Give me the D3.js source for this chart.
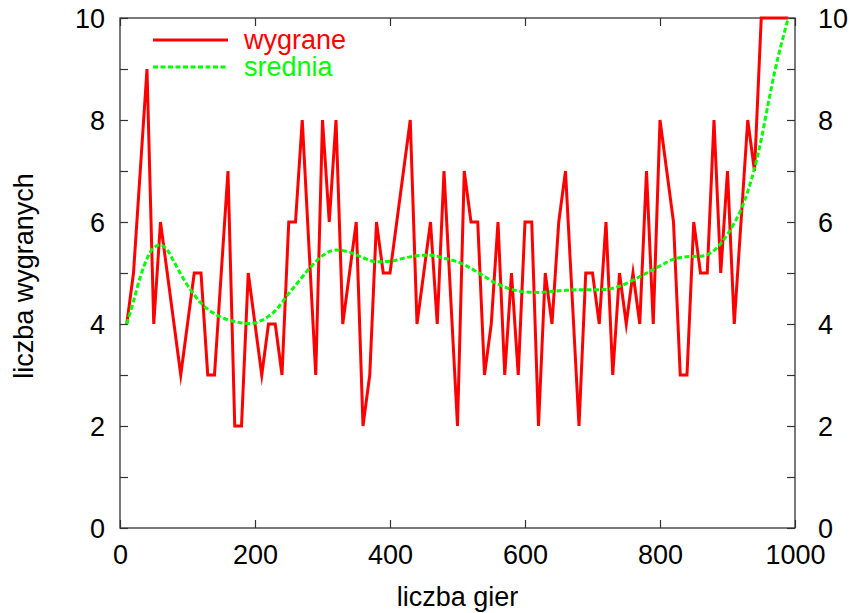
<!DOCTYPE html>
<html>
<head>
<meta charset="utf-8">
<script src="https://cdn.jsdelivr.net/npm/d3@7"></script>
<style>
  html, body { margin: 0; padding: 0; background: #fff; }
  svg { display: block; }
  text { font-family: "Liberation Sans", Arial, Helvetica, sans-serif; }
</style>
</head>
<body>
<svg id="chart" width="851" height="613"></svg>
<script>
// ---- data ----
const games = [10,20,30,40,50,60,70,80,90,100,110,120,130,140,150,160,170,180,190,200,
  210,220,230,240,250,260,270,290,300,310,320,330,340,350,360,370,380,390,400,
  410,420,430,440,450,460,470,480,500,510,520,530,540,550,560,570,580,590,600,
  610,620,630,640,650,660,680,690,700,710,720,730,740,750,760,770,780,790,800,
  810,820,830,840,850,860,870,880,890,900,910,920,930,940,950,960,970,980,990];
const wins = [4,5,7,9,4,6,5,4,3,4,5,5,3,3,5,7,2,2,5,4,
  3,4,4,3,6,6,8,3,8,6,8,4,5,6,2,3,6,5,5,
  6,7,8,4,5,6,4,7,2,7,6,6,3,4,6,3,5,3,6,
  6,2,5,4,6,7,2,5,5,4,6,3,5,4,5,4,7,4,8,
  7,6,3,3,6,5,5,8,5,7,4,6,8,7,10,10,10,10,10];

const avgGames = [10,20,30,40,50,60,70,80,90,100,110,120,130,140,150,160,170,180,190,200,
  210,220,230,240,250,260,270,280,290,300,320,340,360,380,400,420,440,460,480,500,
  520,540,560,580,600,620,640,660,680,700,720,740,760,780,800,820,840,860,870,880,
  890,900,910,920,930,940,950,960,970,980,990];
const avgWins = [4.0,4.45,4.92,5.28,5.5,5.55,5.45,5.22,4.98,4.76,4.57,4.41,4.29,4.2,4.13,4.08,4.05,4.02,4.01,4.02,
  4.07,4.15,4.26,4.42,4.6,4.76,4.92,5.08,5.22,5.34,5.45,5.41,5.3,5.22,5.23,5.29,5.34,5.35,5.29,5.22,
  5.09,4.93,4.78,4.68,4.63,4.62,4.64,4.66,4.67,4.67,4.68,4.74,4.86,5.0,5.14,5.27,5.32,5.33,5.36,5.44,
  5.58,5.76,5.98,6.24,6.6,7.05,7.62,8.3,8.95,9.5,10.0];

const xTicks = [0,200,400,600,800,1000];
const yTicks = [0,1,2,3,4,5,6,7,8,9,10];
const yLabels = ["0","","2","","4","","6","","8","","10"];
const seriesNames = ["wygrane","srednia"];
const xTitle = "liczba gier";
const yTitle = "liczba wygranych";

// ---- layout ----
const svg = d3.select("#chart");
const L = 120, R = 795, T = 18, B = 528;
const FS = 27;
const x = d3.scaleLinear().domain([0,1000]).range([L,R]);
const y = d3.scaleLinear().domain([0,10]).range([B,T]);

svg.append("rect").attr("width",851).attr("height",613).attr("fill","#fff");

function styleAxis(g){
  g.select(".domain").remove();
  g.selectAll(".tick line").attr("stroke","#333").attr("stroke-width",1.2);
  g.selectAll(".tick text").attr("fill","#000").style("font-size",FS+"px")
    .style("font-family",'"Liberation Sans", Arial, sans-serif');
}

const fmtY = d => yLabels[yTicks.indexOf(d)];

svg.append("g").attr("transform",`translate(${L},0)`)
  .call(d3.axisLeft(y).tickValues(yTicks).tickFormat(fmtY).tickSizeInner(-8).tickSizeOuter(0).tickPadding(15))
  .call(styleAxis).call(g=>g.selectAll(".tick text").attr("dy","0.36em"));

svg.append("g").attr("transform",`translate(${R},0)`)
  .call(d3.axisRight(y).tickValues(yTicks).tickFormat(fmtY).tickSizeInner(-8).tickSizeOuter(0).tickPadding(23))
  .call(styleAxis).call(g=>g.selectAll(".tick text").attr("dy","0.36em"));

svg.append("g").attr("transform",`translate(0,${B})`)
  .call(d3.axisBottom(x).tickValues(xTicks).tickFormat(d3.format("d")).tickSizeInner(-8).tickSizeOuter(0).tickPadding(17))
  .call(styleAxis);

svg.append("g").attr("transform",`translate(0,${T})`)
  .call(d3.axisTop(x).tickValues(xTicks).tickFormat("").tickSizeInner(-8).tickSizeOuter(0))
  .call(styleAxis);

// frame
svg.append("rect").attr("x",L).attr("y",T).attr("width",R-L).attr("height",B-T)
  .attr("fill","none").attr("stroke","#333").attr("stroke-width",1.3);

// ---- series ----
const redData = games.map((g,i)=>[g,wins[i]]);
const greenData = avgGames.map((g,i)=>[g,avgWins[i]]);

svg.append("path").datum(redData)
  .attr("fill","none").attr("stroke","#ff0000").attr("stroke-width",3)
  .attr("stroke-linejoin","miter").attr("stroke-miterlimit",10)
  .attr("d", d3.line().x(d=>x(d[0])).y(d=>y(d[1])));

svg.append("path").datum(greenData)
  .attr("fill","none").attr("stroke","#00ff00").attr("stroke-width",3)
  .attr("stroke-dasharray","5,2.5")
  .attr("d", d3.line().curve(d3.curveMonotoneX).x(d=>x(d[0])).y(d=>y(d[1])));

// ---- legend ----
const leg = svg.append("g");
leg.append("line").attr("x1",153).attr("x2",228).attr("y1",40).attr("y2",40)
  .attr("stroke","#ff0000").attr("stroke-width",3);
leg.append("text").attr("x",244).attr("y",49).attr("fill","#ff0000")
  .style("font-size",FS+"px").text(seriesNames[0]);
leg.append("line").attr("x1",153).attr("x2",228).attr("y1",67).attr("y2",67)
  .attr("stroke","#00ff00").attr("stroke-width",3).attr("stroke-dasharray","5,2.5");
leg.append("text").attr("x",244).attr("y",76).attr("fill","#00ff00")
  .style("font-size",FS+"px").text(seriesNames[1]);

// ---- titles ----
svg.append("text").attr("x",(L+R)/2).attr("y",606).attr("text-anchor","middle")
  .style("font-size",FS+"px").attr("fill","#000").text(xTitle);
svg.append("text").attr("transform","translate(33,276) rotate(-90)").attr("text-anchor","middle")
  .style("font-size",FS+"px").attr("fill","#000").text(yTitle);
</script>
</body>
</html>
